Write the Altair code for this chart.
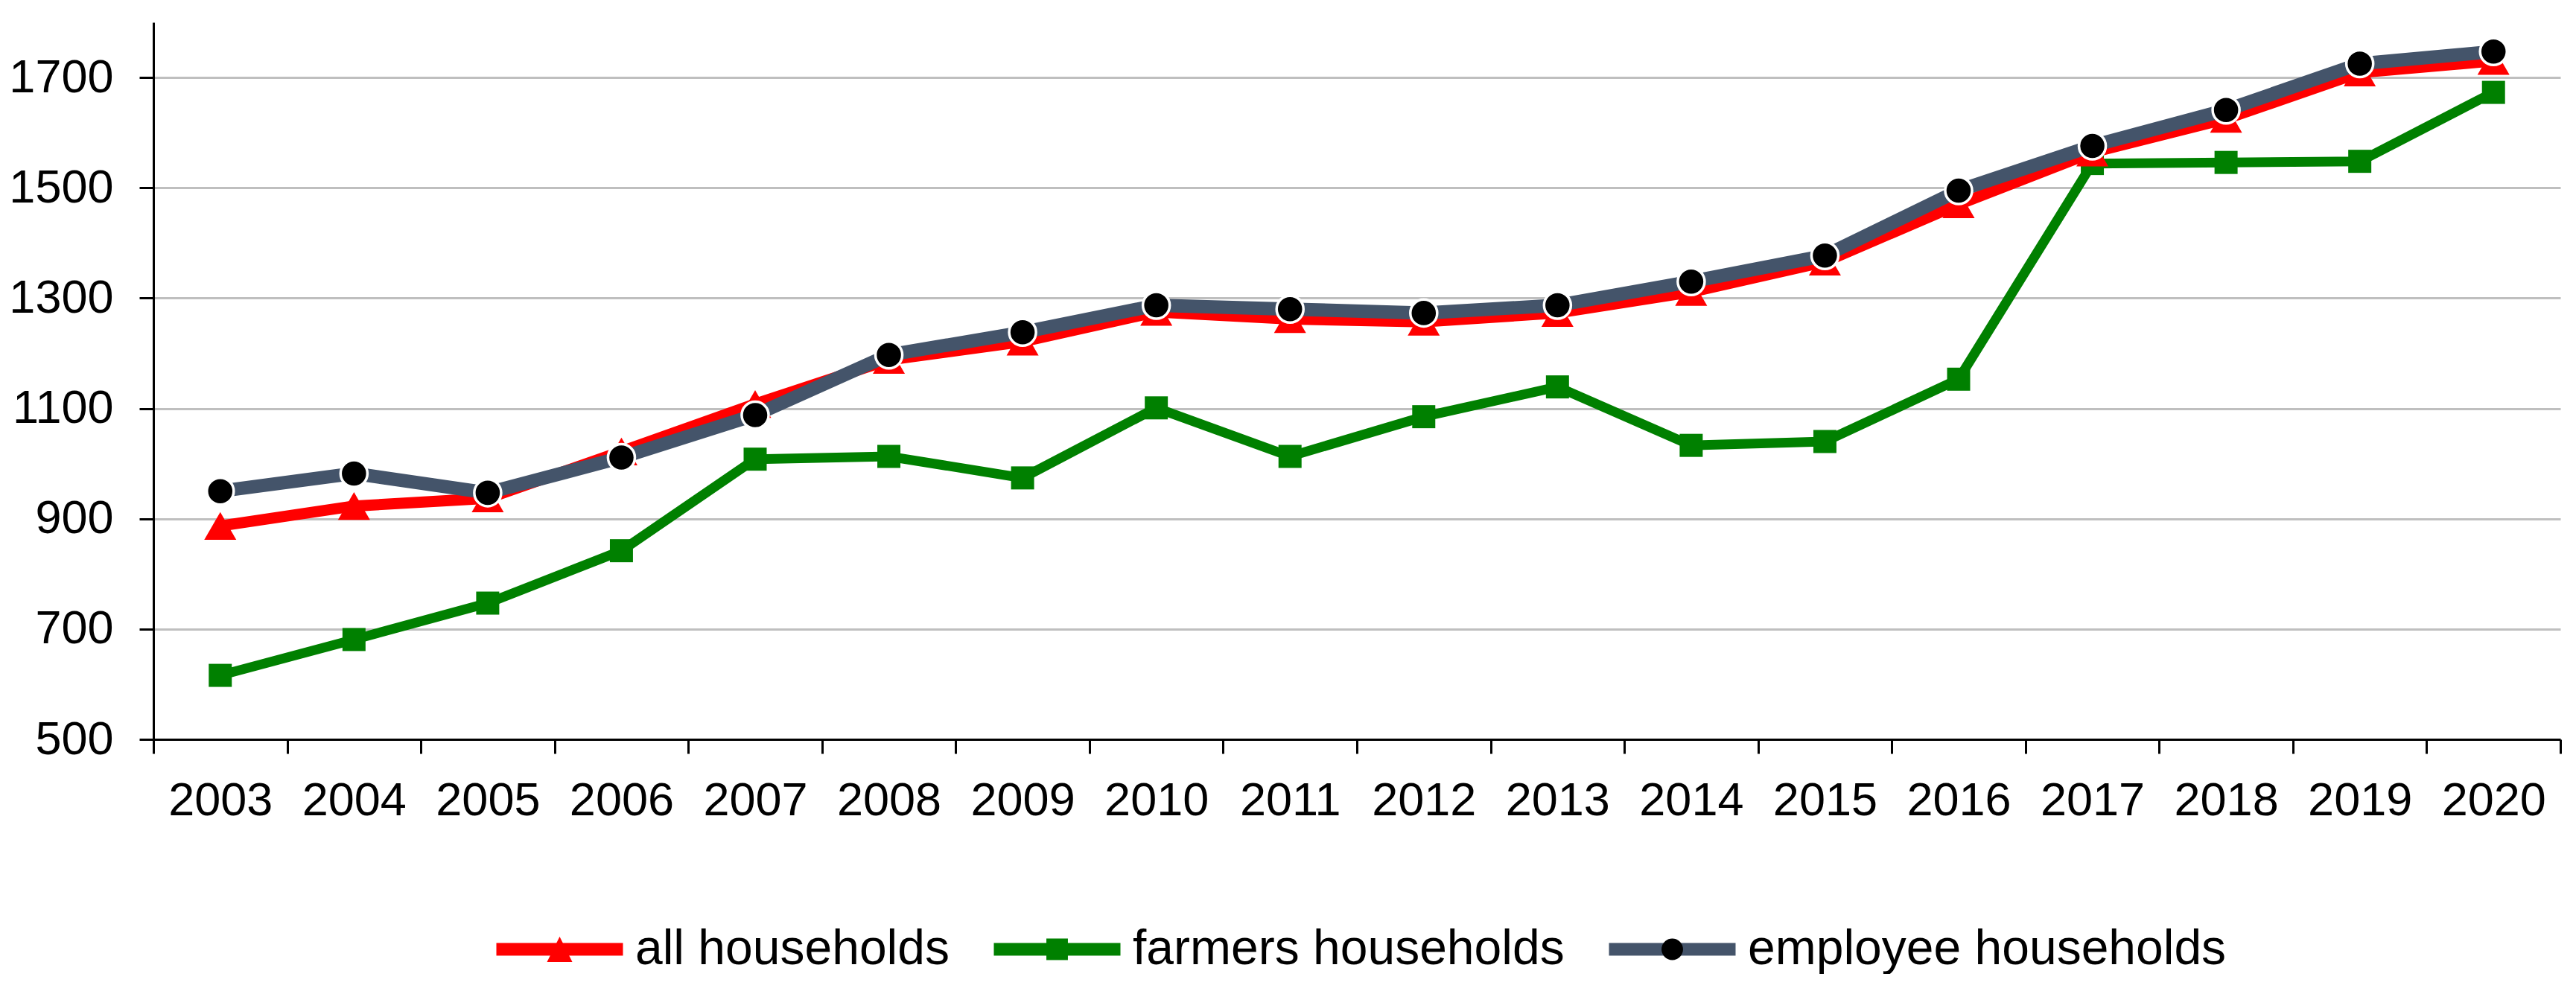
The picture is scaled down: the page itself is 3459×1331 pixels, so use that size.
import altair as alt
import pandas as pd

# ---- data ----
years = list(range(2003, 2021))
all_households = [887, 923, 937, 1022, 1108, 1188, 1221, 1275, 1262, 1257,
                  1273, 1311, 1366, 1470, 1564, 1625, 1709, 1730]
farmers_households = [616, 681, 747, 842, 1008, 1013, 974, 1101, 1013, 1085,
                      1139, 1033, 1040, 1153, 1544, 1546, 1548, 1673]
employee_households = [950, 982, 947, 1011, 1088, 1197, 1238, 1287, 1280, 1273,
                       1287, 1330, 1377, 1495, 1576, 1641, 1725, 1747]
series_names = ["all households", "farmers households", "employee households"]
series_codes = ["a", "f", "e"]
line_colors = ["#FF0000", "#008000", "#44546A"]
marker_colors = ["#FF0000", "#008000", "#000000"]
y_ticks = [500, 700, 900, 1100, 1300, 1500, 1700]
x_bounds = [y - 0.5 for y in years] + [years[-1] + 0.5]

rows = []
for name, vals in zip(series_names, [all_households, farmers_households, employee_households]):
    for yr, v in zip(years, vals):
        rows.append({"year": yr, "series": name, "value": v})
df = pd.DataFrame(rows)

FONT = "Liberation Sans"
W, H = 3232, 963

x_scale = alt.Scale(domain=[x_bounds[0], x_bounds[-1]], nice=False, zero=False)
y_scale = alt.Scale(domain=[500, 1800], nice=False, zero=False)

label_axis = alt.Axis(orient="bottom", values=years, format="d", ticks=False, tickSize=0,
                      grid=False, domain=True, domainColor="black", domainWidth=3,
                      labelFont=FONT, labelFontSize=63, labelColor="black", labelPadding=51,
                      labelFlush=False, labelOverlap=False, title=None)
tick_axis = alt.Axis(orient="bottom", values=x_bounds, labels=False, ticks=True, tickSize=19,
                     tickWidth=3, tickColor="black", domain=False, grid=False, title=None)
y_axis = alt.Axis(orient="left", values=y_ticks, format="d", grid=True, gridColor="#BFBFBF",
                  gridWidth=3, domain=True, domainColor="black", domainWidth=3, ticks=True,
                  tickSize=19, tickWidth=3, tickColor="black", labelFont=FONT, labelFontSize=63,
                  labelColor="black", labelPadding=35, labelFlush=False, title=None)

x_plain = alt.X("year:Q", scale=x_scale, axis=None)
y_plain = alt.Y("value:Q", scale=y_scale, axis=None)

base = alt.Chart(df)


def only(name):
    return base.transform_filter(alt.datum.series == name)


green_line = only("farmers households").mark_line(color="#008000", strokeWidth=13).encode(
    x=alt.X("year:Q", scale=x_scale, axis=label_axis),
    y=alt.Y("value:Q", scale=y_scale, axis=y_axis))
green_pts = only("farmers households").mark_point(
    shape="square", filled=True, size=960, color="#008000", opacity=1).encode(x=x_plain, y=y_plain)
red_line = only("all households").mark_line(color="#FF0000", strokeWidth=15).encode(x=x_plain, y=y_plain)
red_pts = only("all households").mark_point(
    shape="triangle-up", filled=True, size=1850, color="#FF0000", opacity=1).encode(x=x_plain, y=y_plain)
slate_line = only("employee households").mark_line(color="#44546A", strokeWidth=18).encode(x=x_plain, y=y_plain)
circles = only("employee households").mark_point(
    shape="circle", filled=True, size=1300, fill="#000000", stroke="white", strokeWidth=3.5,
    opacity=1).encode(x=x_plain, y=y_plain)

# ---- legend (lines + markers overlaid) ----
LEG_X, LEG_Y = 452, 1212
SYM = 170 ** 2
legend_common = dict(orient="none", legendX=LEG_X, legendY=LEG_Y, direction="horizontal",
                     title=None, symbolSize=SYM, symbolStrokeWidth=17, labelFont=FONT,
                     labelFontSize=66, labelColor="black", labelOffset=8, columnPadding=51,
                     padding=0, clipHeight=66, labelLimit=2000)

legend_lines = base.transform_filter("false").mark_line(strokeWidth=17).encode(
    x=alt.X("year:Q", scale=x_scale, axis=tick_axis), y=y_plain,
    color=alt.Color("series:N", scale=alt.Scale(domain=series_names, range=line_colors),
                    legend=alt.Legend(symbolType="stroke", zindex=0, **legend_common)))

marker_paths = [
    "M0,-0.2L0.2,0.2L-0.2,0.2Z",
    "M-0.17,-0.17H0.17V0.17H-0.17Z",
    "M-0.17,0A0.17,0.17 0 1 0 0.17,0A0.17,0.17 0 1 0 -0.17,0Z",
]
label_expr = " : ".join(
    f"datum.label == '{c}' ? '{n}'" for c, n in zip(series_codes[:-1], series_names[:-1])
) + f" : '{series_names[-1]}'"
leg2 = alt.Legend(symbolStrokeColor="transparent", labelOpacity=0, labelExpr=label_expr,
                  zindex=1, **legend_common)
legend_marks = base.transform_filter("false").mark_point(
    filled=True, size=SYM, strokeWidth=17, stroke="transparent", opacity=1).encode(
    x=x_plain, y=y_plain,
    fill=alt.Fill("series:N", scale=alt.Scale(domain=series_codes, range=marker_colors), legend=leg2),
    shape=alt.Shape("series:N", scale=alt.Scale(domain=series_codes, range=marker_paths), legend=leg2))

chart = alt.layer(
    green_line, green_pts, red_line, red_pts, slate_line, circles, legend_lines, legend_marks
).resolve_axis(x="independent", y="independent").properties(
    width=W, height=H, padding={"left": 3, "top": 22, "right": 5, "bottom": 0}
).configure_view(stroke=None)

chart.save("out.html", embed_options={"renderer": "svg", "actions": False})
